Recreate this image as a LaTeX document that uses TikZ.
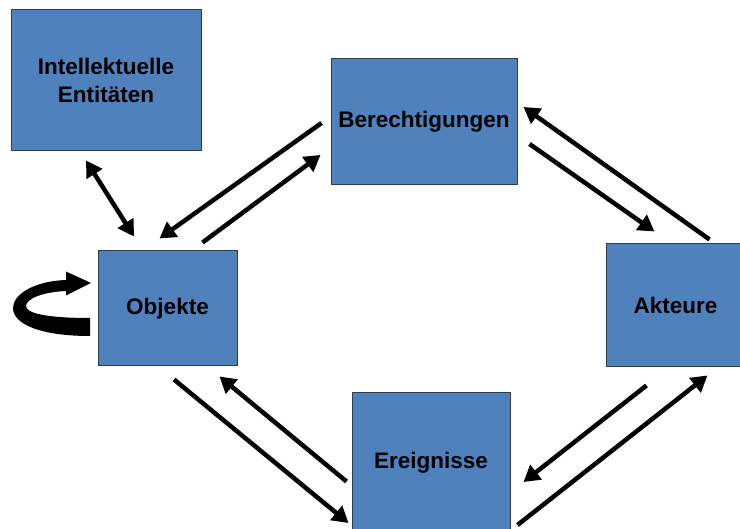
\documentclass[tikz,border=0pt]{standalone}
\usepackage{fontspec}
\setmainfont{Liberation Sans}
\usetikzlibrary{shapes,arrows.meta,positioning}
\definecolor{boxblue}{HTML}{4F81BD}
\definecolor{boxline}{HTML}{2F3D4F}
\tikzset{
  entity/.style={draw=boxline,line width=1pt,fill=boxblue,align=center,inner sep=0pt,
    font=\bfseries\fontsize{22.5}{28}\selectfont},
  flow/.style={line width=4.5pt,-{Triangle[length=16pt,width=18pt]}},
}

\begin{document}
\begin{tikzpicture}[x=1pt,y=-1pt]
\useasboundingbox (0,0) rectangle (740,529);

%Boxes
\node[entity,minimum width=190pt,minimum height=141pt] (intel) at (106,80.5) {Intellektuelle\\Entitäten};
\node[entity,minimum width=186pt,minimum height=126pt] (ber) at (424,122) {Berechtigungen};
\node[entity,minimum width=139pt,minimum height=115pt] (obj) at (167.5,308.5) {Objekte};
\node[entity,minimum width=139pt,minimum height=123pt] (akt) at (675.5,305.5) {Akteure};
\node[entity,minimum width=158pt,minimum height=140pt] (ere) at (431,463) {Ereignisse};

%Intellektuelle Entitaeten <-> Objekte
\draw[flow,{Triangle[length=16pt,width=18pt]}-{Triangle[length=16pt,width=18pt]}]
  ([shift={(-20,9)}]intel.south) -- ([shift={(-33.5,-14)}]obj.north);

%Objekte / Berechtigungen
\draw[flow] ([shift={(-9,1)}]ber.west) -- ([shift={(-8,-12)}]obj.north);
\draw[flow] ([shift={(35,-8)}]obj.north) -- ([shift={(-10,33)}]ber.west);

%Berechtigungen / Akteure
\draw[flow] ([shift={(12,22)}]ber.east) -- ([shift={(-21,-12)}]akt.north);
\draw[flow] ([shift={(34,-4)}]akt.north) -- ([shift={(6,-15)}]ber.east);

%Akteure / Ereignisse
\draw[flow] ([shift={(-29,18)}]akt.south) -- ([shift={(13,19)}]ere.east);
\draw[flow] ([shift={(7,62)}]ere.east) -- ([shift={(32,8)}]akt.south);

%Objekte / Ereignisse
\draw[flow] ([shift={(6.5,13)}]obj.south) -- ([shift={(-3,60)}]ere.west);
\draw[flow] ([shift={(-5,18.5)}]ere.west) -- ([shift={(52,10)}]obj.south);

%Loop on Objekte
\fill (90,336) .. controls (40,336) and (13,324) .. (13,308)
  .. controls (13,294) and (35,281) .. (66,280)
  -- (66,271.5) -- (91,283) -- (66,295.5) -- (66,291)
  .. controls (42,292) and (26,299) .. (26,306)
  .. controls (26,313) and (45,318) .. (90,318) -- cycle;

\end{tikzpicture}
\end{document}
